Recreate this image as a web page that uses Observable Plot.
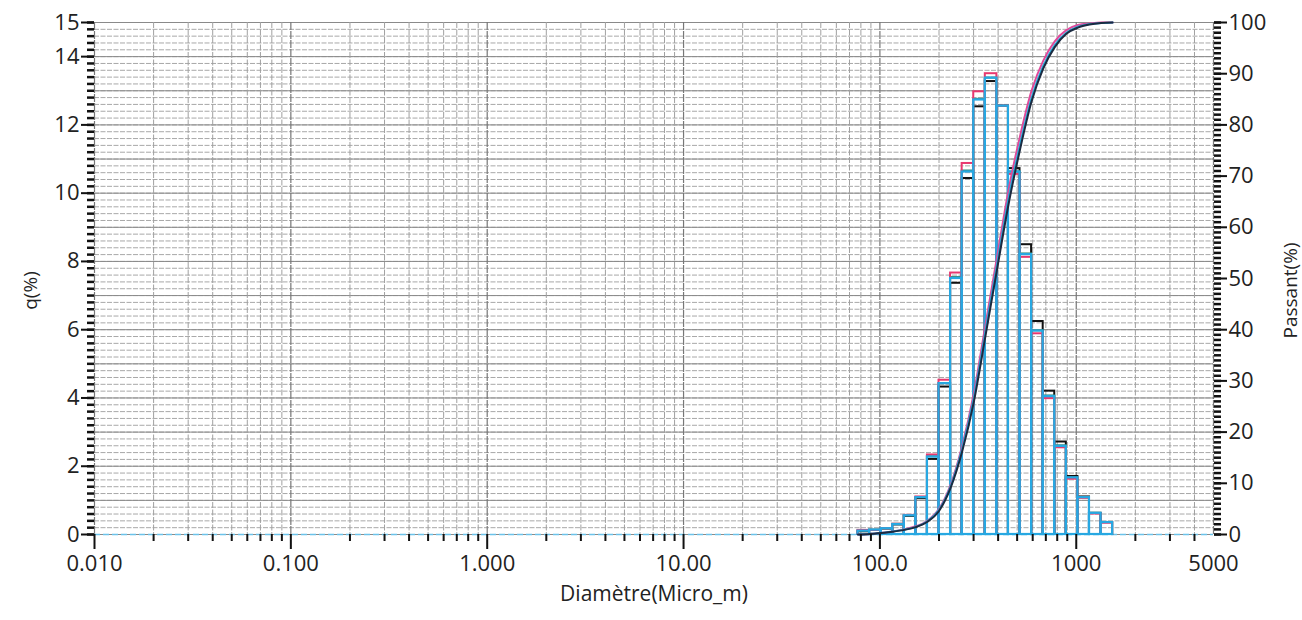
<!DOCTYPE html>
<html>
<head>
<meta charset="utf-8">
<script src="https://cdn.jsdelivr.net/npm/d3@7"></script>
<script src="https://cdn.jsdelivr.net/npm/@observablehq/plot@0.6"></script>
<style>
  html, body { margin: 0; padding: 0; background: #fff; }
  #chart svg { display: block; }
</style>
</head>
<body>
<div id="chart"></div>
<script>
// Bin edges (µm) of the size classes that carry data
const edges = [77.339, 88.583, 101.46, 116.21, 133.10, 152.45, 174.62, 200.0, 229.08, 262.38, 300.52,
  344.21, 394.24, 451.56, 517.2, 592.39, 678.5, 777.14, 890.12, 1019.5, 1167.7, 1337.5, 1531.9];

// q(%) per class, four overlaid measurements
const qBlue  = [0.10, 0.13, 0.17, 0.29, 0.55, 1.08, 2.27, 4.42, 7.50, 10.62, 12.73, 13.37, 12.55, 10.62, 8.20, 5.96, 4.04, 2.58, 1.66, 1.08, 0.62, 0.35];
const qRed   = [0.12, 0.12, 0.17, 0.30, 0.56, 1.10, 2.33, 4.52, 7.66, 10.87, 12.97, 13.50, 12.55, 10.55, 8.12, 5.88, 3.98, 2.54, 1.62, 1.06, 0.60, 0.33];
const qTeal  = [0.10, 0.13, 0.17, 0.30, 0.55, 1.08, 2.28, 4.42, 7.53, 10.65, 12.75, 13.37, 12.55, 10.62, 8.22, 5.97, 4.06, 2.60, 1.66, 1.08, 0.62, 0.35];
const qBlack = [0.08, 0.12, 0.16, 0.28, 0.53, 1.05, 2.20, 4.32, 7.36, 10.43, 12.53, 13.27, 12.55, 10.72, 8.49, 6.24, 4.20, 2.71, 1.70, 1.10, 0.62, 0.35];

// Passant(%) (cumulative) at each edge
const pBlue  = [0, 0.1, 0.3, 0.6, 0.95, 1.5, 2.6, 4.8, 9.4, 16.8, 26.6, 39.6, 52.6, 65.6, 76.2, 85.3, 91.5, 95.6, 98.0, 99.2, 99.7, 99.9, 100];
const pPink  = [0, 0.1, 0.3, 0.6, 1.0, 1.6, 2.7, 5.0, 9.7, 17.3, 27.5, 40.8, 54.0, 67.2, 77.8, 86.7, 92.5, 96.3, 98.5, 99.5, 99.8, 100, 100];
const pBlack = [0, 0.1, 0.3, 0.55, 0.9, 1.45, 2.5, 4.6, 9.1, 16.2, 25.8, 38.6, 51.6, 64.4, 75.2, 84.6, 91.0, 95.2, 97.8, 99.0, 99.6, 99.9, 100];

// Axes
const xMajor = [0.01, 0.1, 1, 10, 100, 1000];
const xMajorLabels = ["0.010", "0.100", "1.000", "10.00", "100.0", "1000"];
const xEnd = [5000];
const xEndLabels = ["5000"];
const qTicks = [0, 2, 4, 6, 8, 10, 12, 14, 15];
const passantTicks = [0, 10, 20, 30, 40, 50, 60, 70, 80, 90, 100];

// grid / minor tick positions
const xMinor = [];
for (let k = -2; k <= 2; k++) for (let m = 2; m <= 9; m++) xMinor.push(m * Math.pow(10, k));
xMinor.push(2000, 3000, 4000);
const qMinor = d3.range(0, 15.001, 0.2).map(v => +v.toFixed(2));
const qMajorGrid = d3.range(0, 16, 1);
const pMinor = d3.range(0, 101, 1);
const P = 15 / 100; // passant -> q scale factor

const bins = q => q.map((v, i) => ({x1: edges[i], x2: edges[i + 1], q: v}));
const curve = p => p.map((v, i) => ({d: edges[i], p: v}));

const font = "'Open Sans', 'Noto Sans', sans-serif";

const chart = Plot.plot({
  width: 1302,
  height: 620,
  marginLeft: 94,
  marginRight: 89,
  marginTop: 22,
  marginBottom: 86,
  style: {fontFamily: font, background: "#fff", color: "#222"},
  x: {type: "log", domain: [0.01, 5000], label: null},
  y: {domain: [0, 15], label: null},
  marks: [
    // grid
    Plot.ruleY(qMinor, {stroke: "#a8a8a8", strokeWidth: 1, strokeDasharray: "5,1.5"}),
    Plot.ruleY(qMajorGrid, {stroke: "#8a8a8a", strokeWidth: 1}),
    Plot.ruleX(xMinor, {stroke: "#a0a0a0", strokeWidth: 1, strokeDasharray: "6,1.5"}),
    Plot.ruleX(xMajor.concat([5000]), {stroke: "#777", strokeWidth: 1.2, strokeDasharray: "8,1"}),
    Plot.ruleY([0], {stroke: "#6cc3ea", strokeWidth: 1.5, strokeDasharray: "6,3"}),
    // histogram bars
    Plot.rectY(bins(qBlack), {x1: "x1", x2: "x2", y: "q", fill: "none", stroke: "#111", strokeWidth: 2}),
    Plot.rectY(bins(qTeal), {x1: "x1", x2: "x2", y: "q", fill: "none", stroke: "#3a8f80", strokeWidth: 2}),
    Plot.rectY(bins(qRed), {x1: "x1", x2: "x2", y: "q", fill: "none", stroke: "#e8386f", strokeWidth: 2}),
    Plot.rectY(bins(qBlue), {x1: "x1", x2: "x2", y: "q", fill: "none", stroke: "#27a8e2", strokeWidth: 2.2}),
    // cumulative curves (right axis)
    Plot.line(curve(pPink), {x: "d", y: d => d.p * P, stroke: "#e04a9a", strokeWidth: 2, curve: "monotone-x"}),
    Plot.line(curve(pBlue), {x: "d", y: d => d.p * P, stroke: "#2ba6d8", strokeWidth: 2, curve: "monotone-x"}),
    Plot.line(curve(pBlack), {x: "d", y: d => d.p * P, stroke: "#1b2a40", strokeWidth: 2, curve: "monotone-x"}),
    // x axis
    Plot.axisX(xMinor, {tickSize: 7, strokeWidth: 2, stroke: "#111", tickFormat: () => "", label: null}),
    Plot.axisX(xMajor, {tickSize: 15, strokeWidth: 2, stroke: "#111", tickPadding: 6, fontSize: 22,
      tickFormat: d => xMajorLabels[xMajor.indexOf(d)], label: null}),
    Plot.text(xEnd, {x: d => d, frameAnchor: "bottom", lineAnchor: "top", dy: 21, fontSize: 22, fill: "#222",
      text: (d, i) => xEndLabels[i]}),
    // left axis
    Plot.axisY(qMinor, {anchor: "left", tickSize: 7, strokeWidth: 2.5, stroke: "#111", tickFormat: () => "", label: null}),
    Plot.axisY(qTicks, {anchor: "left", tickSize: 13, strokeWidth: 2, stroke: "#111", tickPadding: 2, fontSize: 22, label: null}),
    // right axis
    Plot.axisY(pMinor.map(v => v * P), {anchor: "right", tickSize: 7, strokeWidth: 2.5, stroke: "#111", tickFormat: () => "", label: null}),
    Plot.axisY(passantTicks.map(v => v * P), {anchor: "right", tickSize: 13, strokeWidth: 2, stroke: "#111", tickPadding: 2, fontSize: 22,
      tickFormat: d => String(Math.round(d / P)), label: null}),
    // axis titles
    Plot.text(["q(%)"], {frameAnchor: "left", textAnchor: "middle", dx: -64, dy: 12, rotate: -90, fontSize: 19, fill: "#222"}),
    Plot.text(["Passant(%)"], {frameAnchor: "right", textAnchor: "middle", dx: 77, dy: 12, rotate: -90, fontSize: 19, fill: "#222"}),
    Plot.text(["Diamètre(Micro_m)"], {frameAnchor: "bottom", dy: 66, fontSize: 21, fill: "#222"})
  ]
});
document.getElementById("chart").appendChild(chart);
</script>
</body>
</html>
